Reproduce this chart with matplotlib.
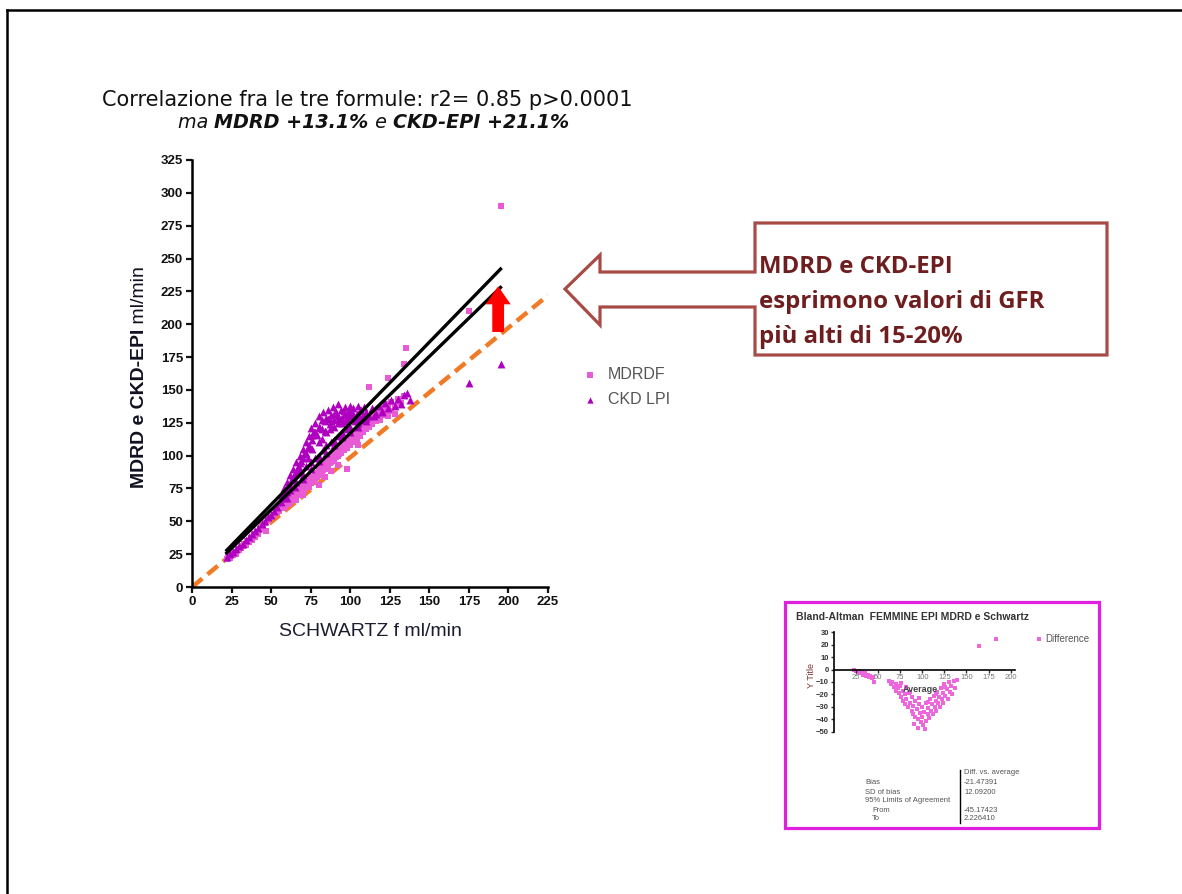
import matplotlib
matplotlib.use("Agg")
import matplotlib.pyplot as plt
import numpy as np
from matplotlib.patches import Polygon, Rectangle, FancyArrowPatch
from matplotlib.lines import Line2D

W, H = 1182, 894


def fx(x):
    return x / W


def fy(y):
    return 1 - y / H


# ---- dati ----
# MDRD (quadratini rosa)
mdrd_x = [22, 23, 24, 25, 26, 27, 28, 29, 30, 31, 32, 33, 34, 35, 36, 37, 38, 39, 40, 41,
          42, 43, 44, 45, 46, 47, 48, 50, 52, 54,
          55, 56, 57, 58, 59, 60, 61, 62, 63, 64, 65, 66, 67, 68, 69, 70, 71, 72, 73, 74, 75, 76, 77,
          78, 79, 80, 81, 82, 83, 84, 85, 86, 87, 88, 89, 90, 91, 92, 93, 94, 95, 96, 97, 98, 99, 100, 101,
          102, 103, 104, 105, 106, 107, 108, 109, 110, 111, 112, 113, 114, 115, 116, 117, 118, 119, 120,
          122, 124, 126, 128, 130, 132, 134,
          58, 60, 62, 64, 66, 68, 70, 72, 74, 76, 78, 80, 82, 84, 86, 88, 90, 92, 94, 96, 98, 100,
          102, 104, 106, 108, 110, 112, 114, 116, 118, 120, 122, 124, 126, 128,
          112, 124, 134, 135, 118, 195, 175, 98, 80, 70, 88, 105, 84, 92, 66, 74]
mdrd_y = [21, 24, 22, 26, 24, 27, 25, 29, 28, 30, 31, 33, 32, 35, 34, 37, 36, 40, 38, 42,
          40, 44, 47, 45, 49, 43, 51, 53, 55, 57,
          58, 62, 60, 64, 62, 66, 63, 68, 66, 70, 67, 72, 70, 75, 72, 77, 74, 80, 77, 82, 79, 84, 81,
          87, 84, 90, 86, 92, 89, 95, 91, 97, 94, 100, 96, 102, 99, 105, 101, 107, 104, 110, 106, 112, 108, 114, 110,
          117, 113, 119, 116, 121, 118, 124, 120, 126, 122, 128, 125, 131, 127, 133, 129, 135, 127, 137,
          139, 136, 141, 138, 143, 140, 145,
          60, 63, 65, 67, 69, 71, 73, 76, 78, 80, 83, 85, 88, 90, 92, 95, 97, 100, 102, 104, 106, 108,
          111, 113, 115, 118, 120, 122, 124, 126, 129, 131, 133, 130, 134, 132,
          152, 159, 170, 182, 127, 290, 210, 90, 78, 70, 88, 108, 84, 93, 66, 76]

# CKD-EPI (triangoli viola)
ckd_x = [22, 24, 26, 28, 30, 32, 34, 36, 38, 40, 42, 44, 46, 48, 50, 52, 54,
         56, 57, 58, 59, 60, 61, 62, 63, 64, 65, 66, 67, 68, 69, 70, 71, 72, 73, 74, 75, 76, 77,
         78, 79, 80, 81, 82, 83, 84, 85, 86, 87, 88, 89, 90, 91, 92, 93, 94, 95, 96, 97, 98, 99, 100,
         101, 102, 103, 104, 105, 106, 107, 108, 109, 110,
         70, 75, 80, 85, 90, 95, 100, 105, 72, 78, 83, 88, 93, 98, 62, 66,
         80, 85, 90, 95, 100, 105, 82, 87, 92, 97, 102, 76, 73, 68, 64,
         58, 60, 62, 64, 66, 68, 70, 72, 74, 76, 78, 80, 82, 84, 86, 88, 90, 92, 94, 96, 98,
         100, 102, 104, 106, 108, 110,
         60, 65, 70, 75, 80, 85, 90, 95, 100, 105, 110, 115, 120,
         112, 114, 116, 118, 120, 122, 124, 126, 128, 130, 132, 134, 136, 138,
         195, 175]
ckd_y = [23, 25, 27, 29, 31, 33, 36, 38, 40, 43, 45, 48, 50, 53, 55, 58, 61,
         65, 70, 75, 72, 80, 77, 85, 82, 90, 86, 95, 91, 100, 96, 105, 101, 110, 106, 115, 121, 112, 118,
         125, 116, 130, 121, 127, 133, 119, 129, 135, 124, 131, 137, 127, 133, 139, 129, 135, 125, 131, 137, 128, 134, 138,
         130, 136, 126, 132, 138, 129, 135, 131, 137, 133,
         85, 95, 100, 108, 112, 118, 122, 125, 92, 98, 104, 110, 115, 120, 74, 80,
         110, 118, 122, 128, 130, 132, 113, 120, 125, 126, 128, 105, 98, 90, 82,
         68, 72, 78, 84, 88, 94, 98, 102, 108, 116, 118, 122, 120, 126, 128, 126, 132, 130, 128, 134, 132,
         134, 132, 128, 134, 127, 129,
         68, 76, 82, 90, 96, 102, 108, 114, 118, 122, 126, 130, 133,
         130, 136, 132, 138, 134, 140, 136, 142, 138, 143, 139, 146, 148, 142,
         170, 155]

# rette di regressione e linea di identità
reg_x = [22, 195]
reg_hi_y = [28, 242]
reg_lo_y = [26, 228]
ident_x = [0, 225]
ident_y = [0, 222]

# Bland-Altman (riquadro piccolo)
ba_x = [23, 25, 27, 28, 30, 32, 33, 35, 36, 38, 40, 41, 43, 44, 45,
        62, 64, 66, 68, 70, 70, 72, 74, 75, 76, 78, 78, 80, 80, 82, 82, 84, 85, 86, 88, 88, 90, 90,
        92, 92, 94, 95, 96, 97, 98, 100, 100, 101, 102, 104, 104, 106, 107, 108, 109, 110, 111, 112,
        113, 114, 115, 116, 117, 118, 119, 120, 121, 122, 123, 124, 125, 126, 128, 129, 130, 131,
        133, 134, 136, 137, 139, 95, 91, 103, 86, 96, 106, 116, 126, 76, 164, 183]
ba_y = [0, -1, -2, -1, -3, -2, -4, -3, -5, -4, -6, -5, -7, -6, -10,
        -9, -12, -10, -14, -12, -17, -15, -19, -13, -22, -17, -25, -20, -28, -14, -24, -30, -19, -27, -33, -22, -29, -36,
        -25, -38, -32, -40, -28, -35, -42, -38, -30, -45, -34, -41, -27, -36, -31, -39, -24, -33, -28, -36,
        -21, -30, -25, -33, -18, -27, -22, -30, -15, -24, -19, -27, -12, -21, -16, -24, -10, -18,
        -13, -20, -9, -15, -8, -47, -44, -48, -18, -23, -26, -20, -14, -11, 19, 25]
ba_yticks = [30, 20, 10, 0, -10, -20, -30, -40, -50]
ba_xticks = [25, 50, 75, 100, 125, 150, 175, 200]
ba_rows = ["Bias", "SD of bias", "95% Limits of Agreement", "From", "To"]
ba_vals = ["Diff. vs. average", "-21.47391", "12.09200", "-45.17423", "2.226410"]

pink = "#e85ad6"
purple = "#b000bf"
orange = "#f07a25"
brick = "#a84a46"
darkred = "#6e1e1e"

plt.rcParams['font.family'] = ['Liberation Sans', 'DejaVu Sans']

fig = plt.figure(figsize=(W / 100, H / 100), dpi=100)
fig.patch.set_facecolor("white")

# cornice della slide (solo lati visibili)
fig.add_artist(Line2D([fx(7), fx(7)], [fy(10), 0], color="black", lw=1.8))
fig.add_artist(Line2D([fx(7), 1], [fy(10), fy(10)], color="black", lw=1.8))

# ---- grafico principale ----
ax = fig.add_axes([fx(192), fy(587), (548 - 192) / W, (587 - 160) / H])
ax.plot(ident_x, ident_y, color=orange, lw=3.2, dashes=(3.0, 1.5), zorder=2)
ax.scatter(mdrd_x, mdrd_y, marker="s", s=24, color=pink, linewidths=0, zorder=3, label="MDRDF")
ax.scatter(ckd_x, ckd_y, marker="^", s=32, color=purple, linewidths=0, zorder=3, label="CKD LPI")
ax.plot(reg_x, reg_hi_y, color="black", lw=2.4, zorder=4)
ax.plot(reg_x, reg_lo_y, color="black", lw=2.4, zorder=4)
arr = FancyArrowPatch((193.5, 192), (193.5, 231),
                      arrowstyle="simple,head_width=1.8,head_length=1.3,tail_width=0.85",
                      mutation_scale=10, color="red", lw=0, zorder=5)
ax.add_patch(arr)

ax.set_xlim(0, 225)
ax.set_ylim(0, 325)
ax.set_xticks(np.arange(0, 226, 25))
ax.set_yticks(np.arange(0, 326, 25))
for s in ["top", "right"]:
    ax.spines[s].set_visible(False)
for s in ["left", "bottom"]:
    ax.spines[s].set_linewidth(1.8)
ax.tick_params(direction="out", length=4.5, width=1.6, labelsize=9.5, colors="#111111", pad=2)
for lab in ax.get_xticklabels() + ax.get_yticklabels():
    lab.set_fontweight("bold")

# etichette assi
fig.text(fx(370), fy(632), "SCHWARTZ f ml/min", ha="center", va="center", fontsize=14,
         color="#1c1c30")
t1 = fig.text(fx(140), fy(488), "MDRD e CKD-EPI", rotation=90, ha="center", va="bottom",
              fontsize=14, fontweight="bold", color="#111122")
ax.annotate(" ml/min", xy=(0.5, 1), xycoords=t1, rotation=90, ha="center", va="bottom",
            fontsize=14, color="#111122", annotation_clip=False)

# titolo
tfam = ["DejaVu Sans"]
fig.text(fx(367), fy(100), "Correlazione fra le tre formule: r2= 0.85 p>0.0001",
         ha="center", va="center", fontsize=15, color="#111111", family=tfam)
p1 = fig.text(fx(178), fy(132), "ma ", ha="left", va="bottom", fontsize=13.8,
              style="italic", color="#111111", family=tfam)
p2 = ax.annotate("MDRD +13.1%", xy=(1, 0), xycoords=p1, ha="left", va="bottom", fontsize=13.8,
                 style="italic", fontweight="bold", color="#111111", annotation_clip=False, family=tfam)
p3 = ax.annotate(" e ", xy=(1, 0), xycoords=p2, ha="left", va="bottom", fontsize=13.8,
                 style="italic", color="#111111", annotation_clip=False, family=tfam)
ax.annotate("CKD-EPI +21.1%", xy=(1, 0), xycoords=p3, ha="left", va="bottom", fontsize=13.8,
            style="italic", fontweight="bold", color="#111111", annotation_clip=False, family=tfam)

# legenda
leg = ax.legend(loc="upper left", bbox_to_anchor=(fx(568), fy(353)), bbox_transform=fig.transFigure,
                frameon=False, fontsize=11.5, handletextpad=0.6, labelspacing=0.6,
                handlelength=1.0, markerscale=0.8)
for t in leg.get_texts():
    t.set_color("#555555")

# freccia-callout
pts = [(755, 223), (1107, 223), (1107, 355), (755, 355), (755, 307), (600, 307), (600, 325),
       (565, 289), (600, 255), (600, 272), (755, 272)]
fig.add_artist(Polygon([(fx(a), fy(b)) for a, b in pts], closed=True, fill=False,
                       edgecolor=brick, lw=2.3, transform=fig.transFigure))
for yy, s in zip([267, 302, 337], ["MDRD e CKD-EPI", "esprimono valori di GFR", "più alti di 15-20%"]):
    fig.text(fx(759), fy(yy), s, ha="left", va="center", fontsize=17.3, fontweight="bold",
             color=darkred, family=["Open Sans", "DejaVu Sans"])

# ---- riquadro Bland-Altman ----
fig.add_artist(Rectangle((fx(785), fy(828)), (1099 - 785) / W, (828 - 602) / H, fill=False,
                         edgecolor="#e020e0", lw=2.3, transform=fig.transFigure))
fig.text(fx(796), fy(617), "Bland-Altman  FEMMINE EPI MDRD e Schwartz", ha="left", va="center",
         fontsize=7.5, fontweight="bold", color="#333333")
bx = fig.add_axes([fx(834), fy(731.7), (1015 - 834) / W, (731.7 - 632.3) / H])
bx.set_facecolor("none")
bx.scatter(ba_x, ba_y, marker="s", s=8, color="#ee66dd", linewidths=0, label="Difference")
bx.set_xlim(0, 205)
bx.set_ylim(-50, 30)
bx.set_yticks(ba_yticks)
bx.set_xticks(ba_xticks)
bx.spines["top"].set_visible(False)
bx.spines["right"].set_visible(False)
bx.spines["bottom"].set_position(("data", 0))
bx.spines["left"].set_linewidth(1.2)
bx.spines["bottom"].set_linewidth(1.2)
bx.tick_params(direction="out", length=2.5, width=1, labelsize=5.5, colors="#333333", pad=1)
for lab in bx.get_yticklabels():
    lab.set_fontweight("bold")
for lab in bx.get_xticklabels():
    lab.set_color("#777777")
fig.text(fx(920), fy(690), "Average", ha="center", va="center", fontsize=6.5, fontweight="bold",
         color="#444444")
fig.text(fx(811), fy(676), "Y Title", rotation=90, ha="center", va="center", fontsize=6.5,
         color="#803030")
bleg = bx.legend(loc="center left", bbox_to_anchor=(fx(1026), fy(639)), bbox_transform=fig.transFigure,
                 frameon=False, fontsize=7, handletextpad=0.3, handlelength=0.8, markerscale=1.0)
for t in bleg.get_texts():
    t.set_color("#555555")

# tabella risultati
for yy, s, xx in zip([782, 792, 801, 810, 819], ba_rows, [865, 865, 865, 872, 872]):
    fig.text(fx(xx), fy(yy), s, ha="left", va="center", fontsize=5.5, color="#555555")
for yy, s in zip([772, 782, 792, 810, 819], ba_vals):
    fig.text(fx(964), fy(yy), s, ha="left", va="center", fontsize=5.5, color="#555555")
fig.add_artist(Line2D([fx(960), fx(960)], [fy(770), fy(823)], color="black", lw=1,
                      transform=fig.transFigure))

fig.savefig("out.png", dpi=100)
